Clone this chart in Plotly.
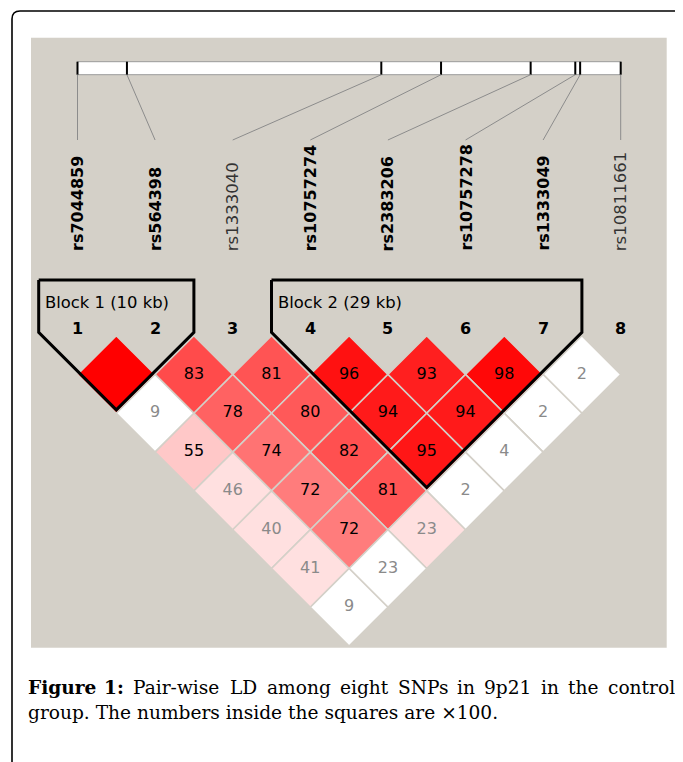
import plotly.graph_objects as go

# ---------------- data ----------------
snp_names = ["rs7044859", "rs564398", "rs1333040", "rs10757274",
             "rs2383206", "rs10757278", "rs1333049", "rs10811661"]
snp_positions_bp = [22019078, 22029547, 22083404, 22096055,
                    22115026, 22124477, 22125503, 22134094]

# D' (x100) for pairs (i, i+d), listed by distance d = 1..7
dprime_by_distance = [
    [100, 83, 81, 96, 93, 98, 2],
    [9, 78, 80, 94, 94, 2],
    [55, 74, 82, 95, 4],
    [46, 72, 81, 2],
    [40, 72, 23],
    [41, 23],
    [9],
]
# LOD >= 2 flags for the same pairs
lod_strong_by_distance = [
    [1, 1, 1, 1, 1, 1, 0],
    [0, 1, 1, 1, 1, 0],
    [1, 1, 1, 1, 0],
    [1, 1, 1, 0],
    [1, 1, 1],
    [1, 0],
    [0],
]
block_first = [1, 4]
block_last = [2, 7]

caption_bold = "Figure 1:"
caption_line1 = "Pair-wise LD among eight SNPs in 9p21 in the control"
caption_line2 = "group. The numbers inside the squares are \u00d7100."

# ---------------- geometry helpers ----------------
OFF = 8                      # page body margin of the html page
W, H = 683 - OFF, 762 - OFF  # figure size
X0, S, Y0 = 77.5, 77.6, 335.7


def xd(p):
    return 1 + (p - X0) / S


def yd(p):
    return (Y0 - p) / S


def pxp(x):
    return (x - OFF) / W


def pyp(y):
    return 1 - (y - OFF) / H


def cell_color(d, strong):
    if strong:
        if d < 50:
            return "rgb(255,224,224)"
        g = int((255 - 32) * 2 * (1 - d / 100.0))
        return f"rgb(255,{g},{g})"
    if d >= 99:
        return "rgb(192,192,240)"
    return "rgb(255,255,255)"


fig = go.Figure()
n = len(snp_names)
SANS = "DejaVu Sans"

# ---------------- genomic bar ----------------
pmin, pmax = min(snp_positions_bp), max(snp_positions_bp)
tick_x = [1 + (n - 1) * (p - pmin) / (pmax - pmin) for p in snp_positions_bp]
bar_top, bar_bot = yd(61.7), yd(74.7)
fig.add_trace(go.Scatter(x=[1, n, n, 1, 1], y=[bar_bot, bar_bot, bar_top, bar_top, bar_bot],
                         mode="lines", fill="toself", fillcolor="white",
                         line=dict(color="#9a9a9a", width=1), hoverinfo="skip", showlegend=False))
for i, tx in enumerate(tick_x):
    fig.add_trace(go.Scatter(x=[tx, tx], y=[bar_bot, bar_top], mode="lines",
                             line=dict(color="black", width=2), hoverinfo="skip", showlegend=False))
    fig.add_trace(go.Scatter(x=[tx, i + 1], y=[bar_bot, yd(140)], mode="lines",
                             line=dict(color="#8c8c8c", width=1), hoverinfo="skip", showlegend=False))

# ---------------- LD cells ----------------
tx_, ty_, tt_, tc_ = [], [], [], []
for d, (vals, strongs) in enumerate(zip(dprime_by_distance, lod_strong_by_distance), start=1):
    for k, (v, s) in enumerate(zip(vals, strongs)):
        i, j = k + 1, k + 1 + d
        cx, cy = (i + j) / 2.0, -d / 2.0
        fig.add_trace(go.Scatter(
            x=[cx - 0.5, cx, cx + 0.5, cx, cx - 0.5],
            y=[cy, cy + 0.5, cy, cy - 0.5, cy],
            mode="lines", fill="toself", fillcolor=cell_color(v, s),
            line=dict(color="#d4d0c8", width=1.6), hoverinfo="skip", showlegend=False))
        if v < 100:
            tx_.append(cx)
            ty_.append(cy)
            tt_.append(str(v))
            tc_.append("#000000" if (s and v >= 50) else "#8a8a8a")
fig.add_trace(go.Scatter(x=tx_, y=ty_, text=tt_, mode="text",
                         textfont=dict(family=SANS, size=16, color=tc_),
                         hoverinfo="skip", showlegend=False))

# ---------------- blocks ----------------
annotations = []
in_block = set()
for bi, (f, l) in enumerate(zip(block_first, block_last), start=1):
    for s_ in range(f, l + 1):
        in_block.add(s_)
    top = yd(280)
    bend = yd(332.3)
    half = (l - f + 1) / 2.0
    xs = [f - 0.5, l + 0.5, l + 0.5, (f + l) / 2.0, f - 0.5, f - 0.5]
    ys = [top, top, bend, bend - half, bend, top]
    fig.add_trace(go.Scatter(x=xs, y=ys, mode="lines", line=dict(color="black", width=3),
                             hoverinfo="skip", showlegend=False))
    kb = round((snp_positions_bp[l - 1] - snp_positions_bp[f - 1]) / 1000.0)
    annotations.append(dict(x=f - 0.5 + 4.5 / S, y=yd(302), xref="x", yref="y",
                            text=f"Block {bi} ({kb} kb)",
                            showarrow=False, xanchor="left", yanchor="middle",
                            font=dict(family=SANS, size=16.4, color="black")))

# column numbers and SNP names
for i, name in enumerate(snp_names, start=1):
    annotations.append(dict(x=i, y=yd(328.7), xref="x", yref="y", text=str(i),
                            showarrow=False, xanchor="center", yanchor="middle",
                            font=dict(family=SANS, size=16, color="black", weight="bold")))
    bold = i in in_block
    annotations.append(dict(x=i, y=yd(253), xref="x", yref="y", text=name, textangle=-90,
                            showarrow=False, xanchor="center", yanchor="bottom",
                            font=dict(family=SANS, size=16 if bold else 16.5,
                                      color="black" if bold else "#333333",
                                      weight="bold" if bold else "normal")))

# ---------------- caption ----------------
SERIF = "DejaVu Serif"
CS = 18.6
reg_w = {' ': .318, 'a': .596, 'b': .640, 'c': .560, 'd': .640, 'e': .592, 'f': .370, 'g': .640,
         'h': .644, 'i': .320, 'k': .606, 'l': .320, 'm': .948, 'n': .644, 'o': .602, 'p': .640,
         'q': .640, 'r': .478, 's': .513, 't': .402, 'u': .644, 'w': .856, 'x': .564, 'y': .565,
         'D': .830, 'L': .667, 'N': .814, 'P': .673, 'S': .685, 'T': .668, '-': .338, ':': .337,
         '.': .318}
bold_w = {'F': .70, 'i': .385, 'g': .655, 'u': .70, 'r': .53, 'e': .62, '1': .696, ':': .37}


def wlen(word, table):
    return sum(table.get(c, .636) for c in word) * CS


words = [(w_, True) for w_ in caption_bold.split()] + [(w_, False) for w_ in caption_line1.split()]
widths = [wlen(w_, bold_w if b else reg_w) for w_, b in words]
left, right = 26.0, 673.0
gap = (right - left - sum(widths)) / (len(words) - 1)
xpos = left
for (w_, b), wd in zip(words, widths):
    annotations.append(dict(x=pxp(xpos), y=pyp(687.5), xref="paper", yref="paper",
                            text=w_, showarrow=False, xanchor="left", yanchor="middle",
                            font=dict(family=SERIF, size=CS, color="black",
                                      weight="bold" if b else "normal")))
    xpos += wd + gap
annotations.append(dict(x=pxp(left), y=pyp(712), xref="paper", yref="paper", text=caption_line2,
                        showarrow=False, xanchor="left", yanchor="middle",
                        font=dict(family=SERIF, size=CS, color="black")))

# ---------------- frame & panel ----------------
r = 8
shapes = [
    dict(type="rect", xref="paper", yref="paper", x0=pxp(31), x1=pxp(666.7),
         y0=pyp(647.7), y1=pyp(37.7), fillcolor="#d4d0c8", line=dict(width=0), layer="below"),
    dict(type="path", xref="paper", yref="paper",
         path=(f"M {pxp(12)},0 L {pxp(12)},{pyp(11 + r)} "
               f"Q {pxp(12)},{pyp(11)} {pxp(12 + r)},{pyp(11)} L 1,{pyp(11)}"),
         line=dict(color="black", width=1.6)),
]

fig.update_layout(
    width=W, height=H, margin=dict(l=0, r=0, t=0, b=0),
    paper_bgcolor="white", plot_bgcolor="rgba(0,0,0,0)",
    xaxis=dict(range=[xd(OFF), xd(OFF + W)], visible=False, fixedrange=True),
    yaxis=dict(range=[yd(OFF + H), yd(OFF)], visible=False, fixedrange=True),
    showlegend=False, annotations=annotations, shapes=shapes,
)
fig.write_html("out.html")
